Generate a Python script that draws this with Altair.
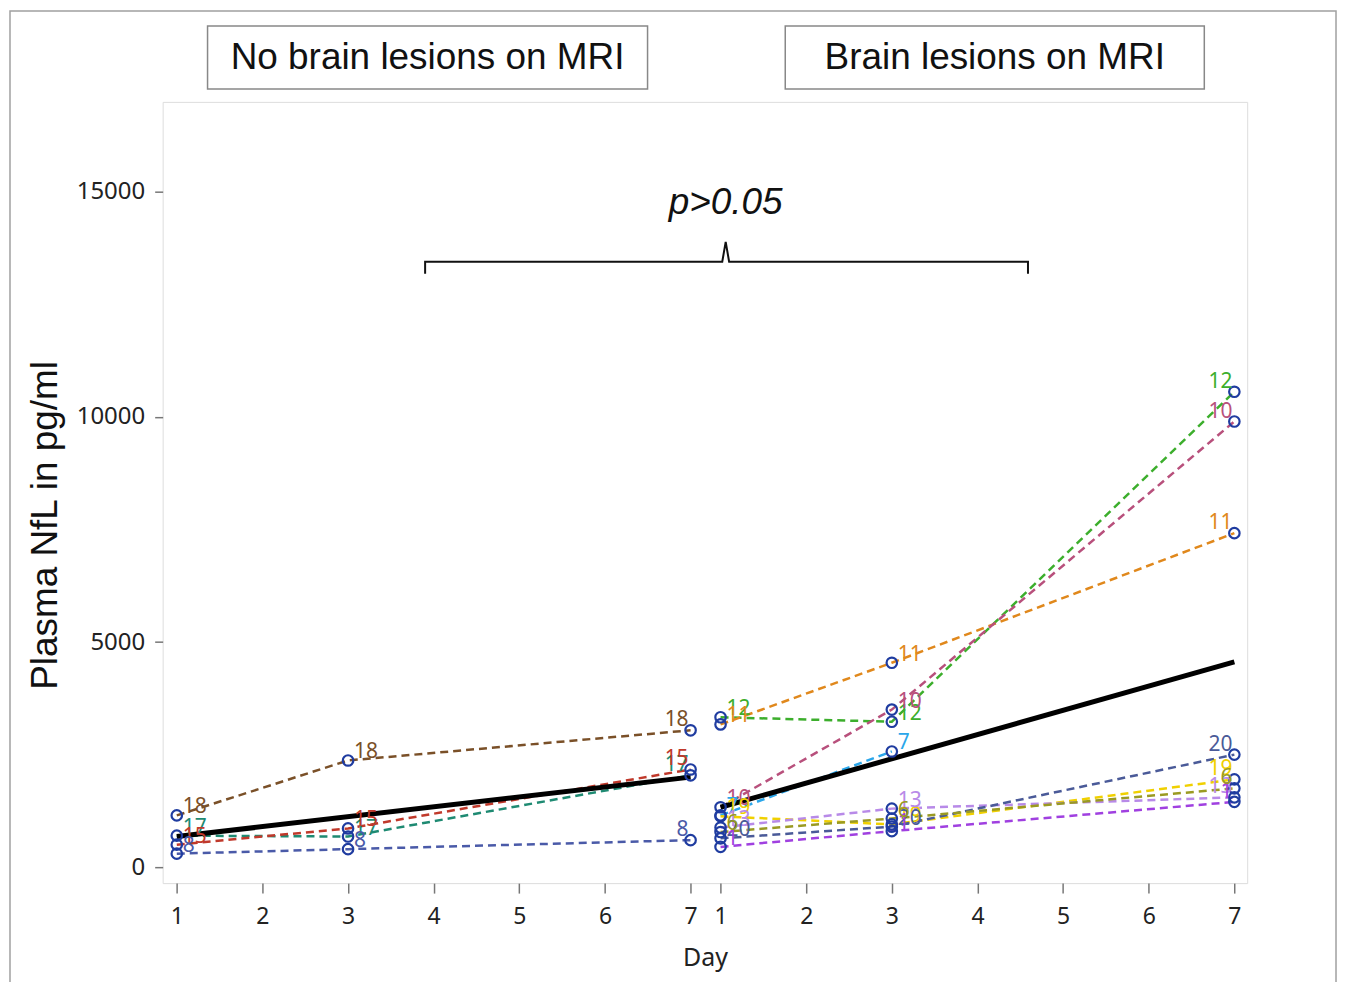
import altair as alt
import pandas as pd

# ---------------- data ----------------
panel_names = ["No brain lesions on MRI", "Brain lesions on MRI"]
panel_shift = [0.0, 6.35]   # second panel sits to the right of the first on one shared axis

patient_ids = ["18", "17", "15", "8", "12", "11", "10", "7", "19", "13", "20", "1", "6"]
patient_panel = [0, 0, 0, 0, 1, 1, 1, 1, 1, 1, 1, 1, 1]
patient_days = [
    [1, 3, 7], [1, 3, 7], [1, 3, 7], [1, 3, 7],
    [1, 3, 7], [1, 3, 7], [1, 3, 7], [1, 3], [1, 3, 7],
    [1, 3, 7], [1, 3, 7], [1, 3, 7], [1, 3, 7],
]
patient_values = [
    [1150, 2370, 3040],   # 18
    [700, 680, 2040],     # 17
    [500, 860, 2170],     # 15
    [300, 400, 600],      # 8
    [3330, 3230, 10560],  # 12
    [3170, 4540, 7420],   # 11
    [1330, 3500, 9900],   # 10
    [1150, 2570],         # 7
    [1130, 950, 1950],    # 19
    [880, 1300, 1550],    # 13
    [640, 900, 2500],     # 20
    [450, 800, 1450],     # 1
    [780, 1080, 1750],    # 6
]
patient_colors = [
    "#7a5028", "#1e8a72", "#c0392b", "#4a5aa8",
    "#3cae2c", "#e0881c", "#b8507c", "#2aa6ea", "#f0d000",
    "#b88ae8", "#4a5a98", "#a040e0", "#9a9a22",
]

mean_days = [1, 7]
mean_values = [[680, 2000], [1330, 4560]]

day_ticks = [1, 2, 3, 4, 5, 6, 7]

bracket_x = [3.9, 3.9, 7.37, 7.41, 7.45, 10.94, 10.94]
bracket_y = [13180, 13450, 13450, 13890, 13450, 13450, 13180]
pvalue_text = "p>0.05"
pvalue_x = 7.41
pvalue_y = 14750

# ---------------- frames ----------------
rows = []
for pid, pan, days, vals in zip(patient_ids, patient_panel, patient_days, patient_values):
    for d, v in zip(days, vals):
        rows.append({"pid": pid, "day": d, "x": d + panel_shift[pan], "value": v,
                     "last": d == 7})
df = pd.DataFrame(rows)

mrows = []
for pan, vals in enumerate(mean_values):
    for d, v in zip(mean_days, vals):
        mrows.append({"panel": panel_names[pan], "x": d + panel_shift[pan], "value": v})
mdf = pd.DataFrame(mrows)

bdf = pd.DataFrame({"x": bracket_x, "value": bracket_y, "o": list(range(len(bracket_x)))})
pdf = pd.DataFrame({"x": [pvalue_x], "value": [pvalue_y], "t": [pvalue_text]})

x_ticks = [d + s for s in panel_shift for d in day_ticks]

xscale = alt.Scale(domain=[0.835, 13.5], nice=False, zero=False)
yscale = alt.Scale(domain=[-355, 17000], nice=False, zero=False)
cscale = alt.Scale(domain=patient_ids, range=patient_colors)

X = alt.X("x:Q", scale=xscale, axis=alt.Axis(
    values=x_ticks, title="Day", grid=False, domain=False,
    labelExpr="datum.value > 7.2 ? format(datum.value - 6.35, '.0f') : format(datum.value, '.0f')",
    labelFontSize=23, labelFont="Noto Sans", labelColor="#222", labelPadding=12,
    tickSize=10, tickColor="#777", tickWidth=1.5,
    titleFontSize=25, titleFont="Noto Sans", titleFontWeight="normal", titleColor="#222",
    titlePadding=18))
Y = alt.Y("value:Q", scale=yscale, axis=alt.Axis(
    values=[0, 5000, 10000, 15000], format="d", title="Plasma NfL in pg/ml",
    grid=False, domain=False,
    labelFontSize=24, labelFont="Noto Sans", labelColor="#222", labelPadding=10,
    tickSize=8, tickColor="#777", tickWidth=1.5,
    titleFontSize=37, titleFont="Liberation Sans", titleFontWeight="normal", titleColor="#111",
    titlePadding=12, titleY=424))

base = alt.Chart(df)

lines = base.mark_line(strokeDash=[8, 5], strokeWidth=2.5).encode(
    x=X, y=Y, color=alt.Color("pid:N", scale=cscale, legend=None), detail="pid:N",
    order="day:Q")

means = alt.Chart(mdf).mark_line(color="black", strokeWidth=5).encode(
    x="x:Q", y="value:Q", detail="panel:N")

points = base.mark_point(shape="circle", filled=False, color="#1f3ca0", size=110,
                         strokeWidth=2.2, opacity=1).encode(x="x:Q", y="value:Q")

lab_mid = base.transform_filter("!datum.last").mark_text(
    align="left", baseline="alphabetic", dx=6, dy=-2, fontSize=21, font="Noto Sans").encode(
    x="x:Q", y="value:Q", text="pid:N", color=alt.Color("pid:N", scale=cscale, legend=None))

lab_end = base.transform_filter("datum.last").mark_text(
    align="right", baseline="alphabetic", dx=-2, dy=-4, fontSize=21, font="Noto Sans").encode(
    x="x:Q", y="value:Q", text="pid:N", color=alt.Color("pid:N", scale=cscale, legend=None))

bracket = alt.Chart(bdf).mark_line(color="#111", strokeWidth=2).encode(
    x="x:Q", y="value:Q", order="o:Q")

ptext = alt.Chart(pdf).mark_text(fontSize=37, font="Liberation Sans", fontStyle="italic",
                                 baseline="middle", align="center", color="#111").encode(
    x="x:Q", y="value:Q", text="t:N")

one = alt.Data(values=[{"a": 1}])

outer = alt.Chart(one).mark_rect(fillOpacity=0, stroke="#a0a0a0", strokeWidth=1.5).encode(
    x=alt.value(-153), x2=alt.value(1176), y=alt.value(-91), y2=alt.value(1000))

box1 = alt.Chart(one).mark_rect(fill="white", stroke="#888", strokeWidth=1.5).encode(
    x=alt.value(45), x2=alt.value(486), y=alt.value(-76), y2=alt.value(-13))
box2 = alt.Chart(one).mark_rect(fill="white", stroke="#888", strokeWidth=1.5).encode(
    x=alt.value(624), x2=alt.value(1044), y=alt.value(-76), y2=alt.value(-13))
head1 = alt.Chart(one).mark_text(text=panel_names[0], fontSize=37, font="Liberation Sans",
                                 color="#111", align="center", baseline="middle").encode(
    x=alt.value(265.5), y=alt.value(-44))
head2 = alt.Chart(one).mark_text(text=panel_names[1], fontSize=37, font="Liberation Sans",
                                 color="#111", align="center", baseline="middle").encode(
    x=alt.value(834), y=alt.value(-44))

chart = alt.layer(
    outer, box1, box2, head1, head2, lines, means, points, lab_mid, lab_end, bracket, ptext
).properties(
    width=1087, height=783,
    autosize=alt.AutoSizeParams(type="none"),
    padding={"left": 155, "top": 93, "right": 90, "bottom": 98},
).configure_view(stroke="#a0a0a0", strokeWidth=1.5).configure(background="white")

chart.save("out.html", embed_options={"renderer": "svg", "actions": False})
